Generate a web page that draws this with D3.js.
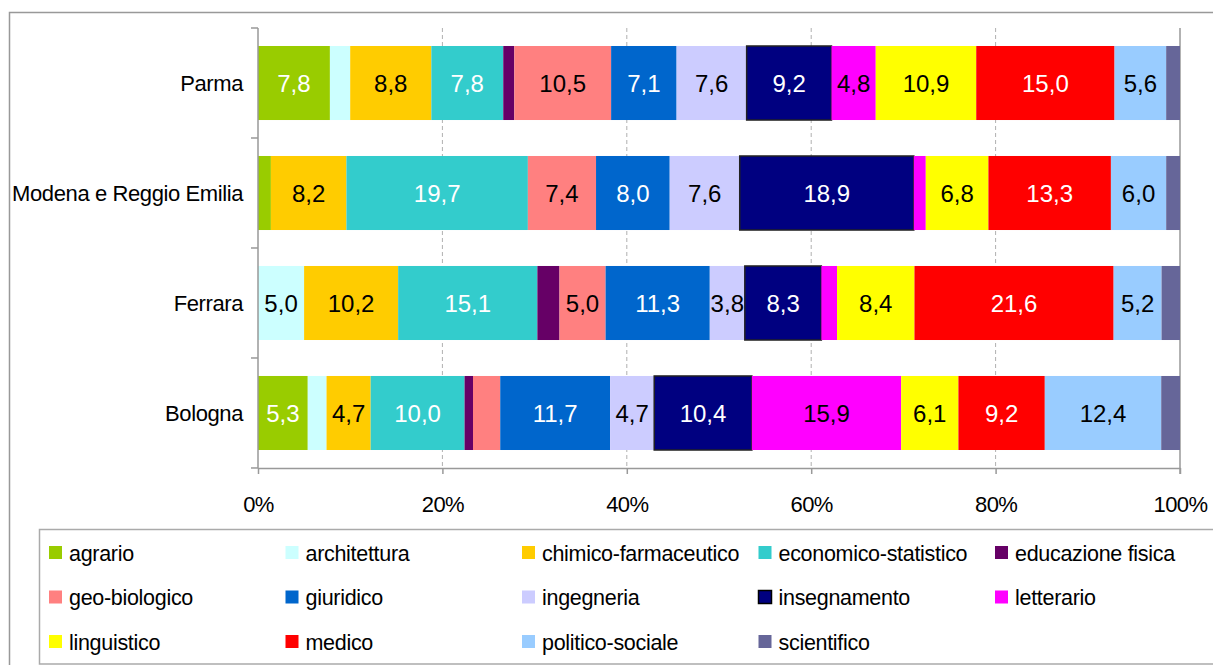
<!DOCTYPE html>
<html>
<head>
<meta charset="utf-8">
<script src="https://cdn.jsdelivr.net/npm/d3@7"></script>
<style>
  body { margin: 0; background: #fff; }
  svg { display: block; font-family: 'Liberation Sans', Arial, sans-serif; }
</style>
</head>
<body>
<div id="chart"></div>
<script>
// cities top to bottom, as in the picture
const cities = ['Parma', 'Modena e Reggio Emilia', 'Ferrara', 'Bologna'];

const fields = [
  'agrario', 'architettura', 'chimico-farmaceutico', 'economico-statistico',
  'educazione fisica', 'geo-biologico', 'giuridico', 'ingegneria',
  'insegnamento', 'letterario', 'linguistico', 'medico', 'politico-sociale',
  'scientifico',
];

// percentages per field, same order as fields
const parma = [7.8, 2.2, 8.8, 7.8, 1.2, 10.5, 7.1, 7.6, 9.2, 4.8, 10.9, 15.0, 5.6, 1.5];
const modena = [1.4, 0, 8.2, 19.7, 0, 7.4, 8.0, 7.6, 18.9, 1.3, 6.8, 13.3, 6.0, 1.5];
const ferrara = [0, 5.0, 10.2, 15.1, 2.4, 5.0, 11.3, 3.8, 8.3, 1.7, 8.4, 21.6, 5.2, 2.0];
const bologna = [5.3, 2.0, 4.7, 10.0, 0.9, 2.9, 11.7, 4.7, 10.4, 15.9, 6.1, 9.2, 12.4, 2.0];

const xTicks = [0, 0.2, 0.4, 0.6, 0.8, 1];

const colors = [
  '#99cc00', '#ccffff', '#ffcc00', '#33cccc', '#660066', '#ff8080', '#0066cc',
  '#ccccff', '#000080', '#ff00ff', '#ffff00', '#ff0000', '#99ccff', '#666699',
];
const labelColors = [
  '#fff', '#000', '#000', '#fff', '#fff', '#000', '#fff',
  '#000', '#fff', '#000', '#000', '#fff', '#000', '#fff',
];

const W = 1213;
const H = 665;
const plot = { left: 258, right: 1180, top: 28, bottom: 468 };
const font = "'Liberation Sans', Arial, sans-serif";

const rows = [parma, modena, ferrara, bologna].map((vals, i) => {
  const r = { city: cities[i] };
  fields.forEach((f, j) => { r[f] = vals[j]; });
  return r;
});

const series = d3.stack()
  .keys(fields)
  .offset(d3.stackOffsetExpand)(rows);

const x = d3.scaleLinear()
  .domain([0, 1])
  .range([plot.left, plot.right]);

const y = d3.scaleBand()
  .domain(cities)
  .range([plot.top, plot.bottom])
  .paddingInner(0.327)
  .paddingOuter(0.1636);

const comma = d3.formatLocale({ decimal: ',', thousands: '.', grouping: [3], currency: ['', '€'] })
  .format('.1f');

const svg = d3.select('#chart').append('svg')
  .attr('width', W)
  .attr('height', H);

// outer frame
svg.append('rect')
  .attr('x', 9.5).attr('y', 12.5)
  .attr('width', W + 20).attr('height', H + 20)
  .attr('fill', 'none')
  .attr('stroke', '#999')
  .attr('stroke-width', 1.5);

// gridlines
svg.append('g')
  .selectAll('line')
  .data(xTicks.slice(1, -1))
  .join('line')
  .attr('x1', d => x(d)).attr('x2', d => x(d))
  .attr('y1', plot.top).attr('y2', plot.bottom)
  .attr('stroke', '#b0b0b0')
  .attr('stroke-dasharray', '4,3');

svg.append('line')
  .attr('x1', x(1)).attr('x2', x(1))
  .attr('y1', plot.top).attr('y2', plot.bottom + 6)
  .attr('stroke', '#999')
  .attr('stroke-width', 1.5);

// bars
const groups = svg.append('g')
  .selectAll('g')
  .data(series)
  .join('g')
  .attr('fill', (d, i) => colors[i]);

groups.selectAll('rect')
  .data(d => d.map(p => Object.assign(p, { key: d.key })))
  .join('rect')
  .attr('x', d => x(d[0]))
  .attr('y', d => y(d.data.city))
  .attr('width', d => x(d[1]) - x(d[0]))
  .attr('height', y.bandwidth())
  .attr('stroke', d => (d.key === 'insegnamento' ? '#222' : 'none'))
  .attr('stroke-width', 1.5);

// value labels
groups.selectAll('text')
  .data(d => d.filter(p => p.data[d.key] >= 3))
  .join('text')
  .attr('x', d => (x(d[0]) + x(d[1])) / 2)
  .attr('y', d => y(d.data.city) + y.bandwidth() / 2)
  .attr('dy', '0.36em')
  .attr('text-anchor', 'middle')
  .attr('font-size', 24)
  .attr('fill', d => labelColors[fields.indexOf(d.key)])
  .text(d => comma(d.data[d.key]));

// left axis
svg.append('line')
  .attr('x1', plot.left).attr('x2', plot.left)
  .attr('y1', plot.top).attr('y2', plot.bottom)
  .attr('stroke', '#999')
  .attr('stroke-width', 1.5);

svg.append('g')
  .selectAll('line')
  .data(d3.range(cities.length + 1))
  .join('line')
  .attr('x1', plot.left - 7).attr('x2', plot.left)
  .attr('y1', i => plot.top + i * y.step())
  .attr('y2', i => plot.top + i * y.step())
  .attr('stroke', '#999')
  .attr('stroke-width', 1.5);

svg.append('g')
  .selectAll('text')
  .data(cities)
  .join('text')
  .attr('x', plot.left - 15)
  .attr('y', d => y(d) + y.bandwidth() / 2)
  .attr('dy', '0.38em')
  .attr('text-anchor', 'end')
  .attr('font-size', 22)
  .attr('letter-spacing', -0.4)
  .attr('fill', '#000')
  .text(d => d);

// bottom axis
const xAxis = d3.axisBottom(x)
  .tickValues(xTicks)
  .tickFormat(d3.format('.0%'))
  .tickSizeInner(6)
  .tickSizeOuter(0)
  .tickPadding(22);

const xAx = svg.append('g')
  .attr('transform', `translate(0,${plot.bottom})`)
  .call(xAxis);

xAx.select('.domain')
  .attr('stroke', '#999')
  .attr('stroke-width', 1.5);
xAx.selectAll('.tick line')
  .attr('stroke', '#999')
  .attr('stroke-width', 1.5);
xAx.selectAll('.tick text')
  .attr('font-family', font)
  .attr('font-size', 22)
  .attr('letter-spacing', -0.6)
  .attr('fill', '#000');

// legend
const legend = svg.append('g');

legend.append('rect')
  .attr('x', 39.5).attr('y', 529.5)
  .attr('width', W).attr('height', 134.5)
  .attr('fill', '#fff')
  .attr('stroke', '#aaa')
  .attr('stroke-width', 1.5);

const item = legend.selectAll('g')
  .data(fields)
  .join('g')
  .attr('transform', (d, i) =>
    `translate(${49 + (i % 5) * 236.5},${553 + Math.floor(i / 5) * 44.5})`);

item.append('rect')
  .attr('x', 0).attr('y', -7)
  .attr('width', 13).attr('height', 13)
  .attr('fill', (d, i) => colors[i])
  .attr('stroke', d => (d === 'insegnamento' ? '#000' : 'none'))
  .attr('stroke-width', 1.5);

item.append('text')
  .attr('x', 20)
  .attr('y', 0)
  .attr('dy', '0.36em')
  .attr('font-size', 21.5)
  .attr('letter-spacing', -0.3)
  .attr('fill', '#000')
  .text(d => d);
</script>
</body>
</html>
